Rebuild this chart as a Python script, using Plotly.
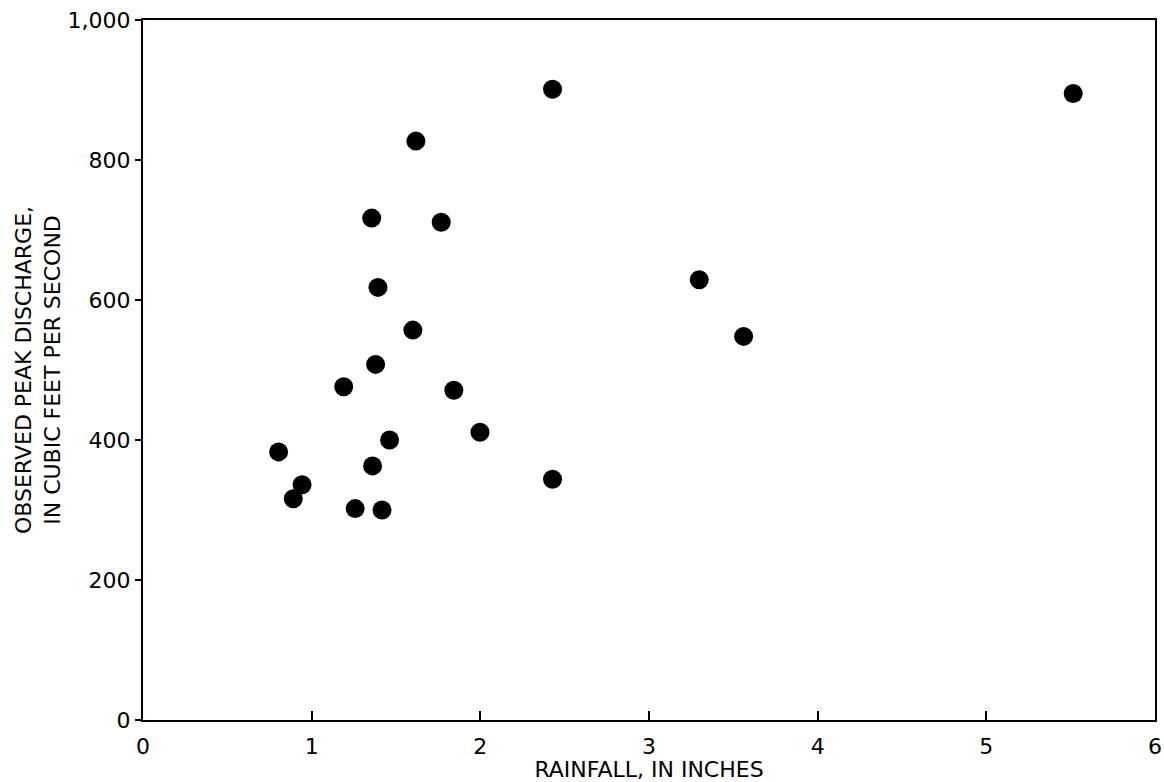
import plotly.graph_objects as go

rainfall = [1.356, 1.768, 1.393, 1.600, 1.379, 1.190, 1.843, 1.998, 1.462, 0.804,
            1.361, 0.943, 0.891, 1.258, 1.417, 1.618, 2.428, 5.515, 3.298, 3.561, 2.428]
discharge = [717, 711, 618, 557, 508, 476, 471, 411, 400, 383,
             363, 336, 316, 302, 300, 827, 901, 895, 629, 548, 344]

x_ticks = [0, 1, 2, 3, 4, 5, 6]
y_ticks = [0, 200, 400, 600, 800, 1000]
y_tick_labels = ["0", "200", "400", "600", "800", "1,000"]

font = dict(family="DejaVu Sans, Liberation Sans, Arial, sans-serif", size=22, color="black")

fig = go.Figure()
fig.add_trace(go.Scatter(
    x=rainfall, y=discharge, mode="markers",
    marker=dict(color="black", size=19, line=dict(width=0)),
    showlegend=False,
))

fig.update_layout(
    width=1164, height=782,
    margin=dict(l=143, r=9, t=20, b=62),
    paper_bgcolor="white", plot_bgcolor="white",
    font=font,
)
fig.update_xaxes(
    range=[0, 6], tickvals=x_ticks, ticktext=[str(v) for v in x_ticks],
    showgrid=False, zeroline=False,
    showline=True, linecolor="black", linewidth=2, mirror=True,
    ticks="inside", ticklen=9, tickwidth=2, tickcolor="black",
    ticklabelstandoff=6, tickfont=font,
    title=dict(text="RAINFALL, IN INCHES", font=font, standoff=12),
    automargin=False,
)
fig.update_yaxes(
    range=[0, 1000], tickvals=y_ticks, ticktext=y_tick_labels,
    showgrid=False, zeroline=False,
    showline=True, linecolor="black", linewidth=2, mirror=True,
    ticks="outside", ticklen=6, tickwidth=2, tickcolor="black",
    tickfont=font,
    title=dict(text="OBSERVED PEAK DISCHARGE,<br>IN CUBIC FEET PER SECOND", font=font, standoff=1),
    automargin=False,
)

fig.write_html("out.html")
